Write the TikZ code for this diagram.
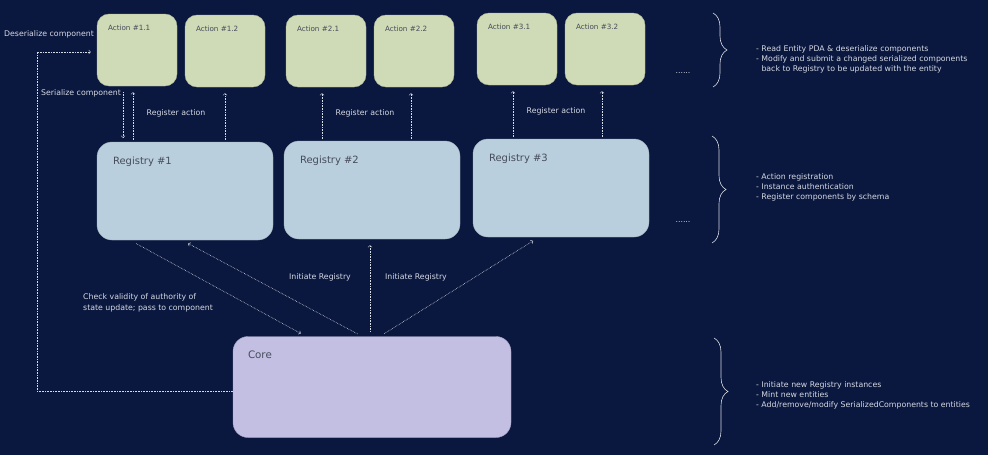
\documentclass[tikz,border=0pt]{standalone}
\usepackage{fontspec}
\setmainfont{DejaVu Sans}
\usetikzlibrary{decorations.pathreplacing}
\definecolor{bgnavy}{RGB}{10,23,62}
\definecolor{actfill}{RGB}{207,218,182}
\definecolor{regfill}{RGB}{186,207,221}
\definecolor{corefill}{RGB}{194,191,227}
\definecolor{inkgray}{RGB}{214,218,228}
\definecolor{boxtext}{RGB}{70,76,90}
\tikzset{
  tiny/.style={font=\fontsize{7.8}{10.4}\selectfont},
  boxlbl/.style={anchor=north west, text=boxtext, inner sep=0pt},
  actbox/.style={fill=actfill, draw=actfill!85!black, rounded corners=12pt,
    minimum width=80pt, minimum height=72pt,
    label={[boxlbl, font=\fontsize{7.2}{8}\selectfont, xshift=11pt, yshift=-11pt]north west:#1}},
  regbox/.style={fill=regfill, draw=regfill!85!black, rounded corners=15pt,
    minimum width=176pt, minimum height=98pt,
    label={[boxlbl, font=\fontsize{10}{11}\selectfont, xshift=16pt, yshift=-15pt]north west:#1}},
  corebox/.style={fill=corefill, draw=corefill!85!black, rounded corners=15pt,
    minimum width=278pt, minimum height=101pt,
    label={[boxlbl, font=\fontsize{10.3}{11}\selectfont, xshift=15pt, yshift=-14pt]north west:#1}},
  dl/.style={draw=inkgray, densely dotted, line width=0.6pt},
  note/.style={text=inkgray, tiny, inner sep=0pt},
  brc/.style={draw=inkgray, line width=0.6pt, decorate, decoration={brace, amplitude=14pt}}
}

\begin{document}
\begin{tikzpicture}[x=1pt, y=-1pt]
  \fill[bgnavy] (0,0) rectangle (988,455);
  \useasboundingbox (0,0) rectangle (988,455);

  % actions
  \node[actbox={Action \#1.1}] (a11) at (137,50) {};
  \node[actbox={Action \#1.2}] (a12) at (225,51) {};
  \node[actbox={Action \#2.1}] (a21) at (326,51) {};
  \node[actbox={Action \#2.2}] (a22) at (414,51) {};
  \node[actbox={Action \#3.1}] (a31) at (517,49) {};
  \node[actbox={Action \#3.2}] (a32) at (605,49) {};
  \node[note] (dots1) at (683,73) {......};

  % registries
  \node[regbox={Registry \#1}] (r1) at (185,191) {};
  \node[regbox={Registry \#2}] (r2) at (372,190) {};
  \node[regbox={Registry \#3}] (r3) at (561,188) {};
  \node[note] (dots2) at (683,222) {......};

  % core
  \node[corebox={Core}] (core) at (372,387) {};

  % action <-> registry
  \draw[dl,->,shorten <=6pt, shorten >=4pt] ([xshift=-14pt]a11.south) -- ([xshift=-14pt]a11.south |- r1.north);
  \draw[dl,->,shorten <=2pt, shorten >=6pt] ([xshift=-4pt]a11.south |- r1.north) -- ([xshift=-4pt]a11.south);
  \draw[dl,->,shorten <=2pt, shorten >=6pt] (a12.south |- r1.north) -- (a12.south);
  \draw[dl,->,shorten <=2pt, shorten >=6pt] ([xshift=-4pt]a21.south |- r2.north) -- ([xshift=-4pt]a21.south);
  \draw[dl,->,shorten <=2pt, shorten >=6pt] ([xshift=-3pt]a22.south |- r2.north) -- ([xshift=-3pt]a22.south);
  \draw[dl,->,shorten <=2pt, shorten >=6pt] ([xshift=-4pt]a31.south |- r3.north) -- ([xshift=-4pt]a31.south);
  \draw[dl,->,shorten <=2pt, shorten >=6pt] ([xshift=-3pt]a32.south |- r3.north) -- ([xshift=-3pt]a32.south);
  \node[note] (ser) at (81,93) {Serialize component};
  \node[note] (reg1) at (176,113) {Register action};
  \node[note] (reg2) at (365,113) {Register action};
  \node[note] (reg3) at (556,111) {Register action};

  % core -> action (deserialize)
  \coordinate (dsr) at (37,52);
  \draw[dl,->,shorten >=6pt] ([yshift=-4pt]core.west) -| (dsr) -- (dsr -| a11.west);
  \node[note] (dsrl) at (49,34) {Deserialize component};

  % core <-> registries
  \draw[dl,->,shorten <=5pt, shorten >=7pt] ([xshift=-10pt]core.north) -- ([xshift=-3pt]r1.south);
  \draw[dl,->,shorten <=7pt, shorten >=6pt] ([xshift=-55pt]r1.south) -- ([xshift=-66pt]core.north);
  \draw[dl,->,shorten <=5pt, shorten >=6pt] ([xshift=-2pt]core.north) -- ([xshift=-2pt]core.north |- r2.south);
  \draw[dl,->,shorten <=5pt, shorten >=7pt] ([xshift=8pt]core.north) -- ([xshift=-22pt]r3.south);
  \node[note] (ini1) at (320,277) {Initiate Registry};
  \node[note] (ini2) at (416,277) {Initiate Registry};
  \node[note, align=left, anchor=west] (chk) at (83,303) {Check validity of authority of\\state update; pass to component};

  % braces and notes
  \draw[brc] (713,13) -- (713,87);
  \draw[brc] (712,136) -- (712,243);
  \draw[brc] (714,338) -- (714,445);
  \node[note, align=left, anchor=north west] (n1) at (756,45)
    {- Read Entity PDA \& deserialize components\\- Modify and submit a changed serialized components\\\hphantom{- }back to Registry to be updated with the entity};
  \node[note, align=left, anchor=north west] (n2) at (756,173)
    {- Action registration\\- Instance authentication\\- Register components by schema};
  \node[note, align=left, anchor=north west] (n3) at (756,381)
    {- Initiate new Registry instances\\- Mint new entities\\- Add/remove/modify SerializedComponents to entities};
\end{tikzpicture}
\end{document}
